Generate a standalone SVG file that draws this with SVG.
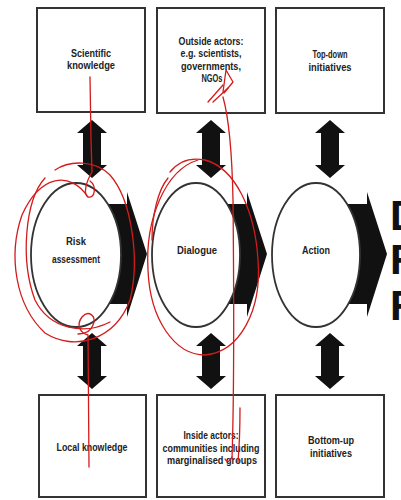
<svg xmlns="http://www.w3.org/2000/svg" xmlns:xlink="http://www.w3.org/1999/xlink" width="401" height="500" viewBox="0 0 401 500">
<style>
.box{fill:#fff;stroke:#333;stroke-width:2}
.circ{fill:#fff;stroke:#333;stroke-width:1.8}
.arr{fill:#111}
.t{font-family:"Liberation Sans",Arial,sans-serif;font-weight:bold;font-size:11px;fill:#222;text-anchor:middle}
.tc{font-family:"Liberation Sans",Arial,sans-serif;font-weight:bold;font-size:10px;fill:#222;text-anchor:middle}
.big{font-family:"Liberation Sans",Arial,sans-serif;font-weight:bold;font-size:42px;fill:#111}
.red{fill:none;stroke:#d21c1c;stroke-width:1.3;stroke-linecap:round;stroke-linejoin:round}
</style>
<defs>
<path id="vtop" d="M0,120 L15,133 L9,133 L9,165 L15,165 L0,178 L-15,165 L-9,165 L-9,133 L-15,133 Z"/>
<path id="vbot" d="M0,333 L15,346 L9,346 L9,376 L15,376 L0,389 L-15,376 L-9,376 L-9,346 L-15,346 Z"/>
<path id="chev" d="M0,204 L51,204 L51,192 L71,254 L51,317 L51,304 L0,304 Z"/>
</defs>
<rect width="401" height="500" fill="#fff"/>
<g id="connectors" class="arr">
<use xlink:href="#vtop" x="92"/>
<use xlink:href="#vtop" x="211"/>
<use xlink:href="#vtop" x="330"/>
<use xlink:href="#vbot" x="92"/>
<use xlink:href="#vbot" x="211"/>
<use xlink:href="#vbot" x="330"/>
<use xlink:href="#chev" x="76"/>
<use xlink:href="#chev" x="196"/>
<use xlink:href="#chev" x="316"/>
</g>
<g id="box-scientific">
<rect class="box" x="37" y="8" width="108" height="104"/>
<text class="t" x="91" y="57" textLength="40" lengthAdjust="spacingAndGlyphs">Scientific</text>
<text class="t" x="91" y="68.5" textLength="48" lengthAdjust="spacingAndGlyphs">knowledge</text>
</g>
<g id="box-outside">
<rect class="box" x="157" y="8" width="108" height="105"/>
<text class="t" x="211" y="44.5" textLength="65" lengthAdjust="spacingAndGlyphs">Outside actors:</text>
<text class="t" x="211" y="57" textLength="61" lengthAdjust="spacingAndGlyphs">e.g. scientists,</text>
<text class="t" x="211" y="69.5" textLength="60" lengthAdjust="spacingAndGlyphs">governments,</text>
<text class="t" x="212" y="82" textLength="21" lengthAdjust="spacingAndGlyphs">NGOs</text>
</g>
<g id="box-topdown">
<rect class="box" x="276" y="8" width="108" height="105"/>
<text class="t" x="330" y="57.5" textLength="35" lengthAdjust="spacingAndGlyphs">Top-down</text>
<text class="t" x="330" y="70.5" textLength="43" lengthAdjust="spacingAndGlyphs">initiatives</text>
</g>
<g id="circle-risk">
<ellipse class="circ" cx="76" cy="255" rx="45" ry="72"/>
<text class="tc" x="76" y="245" textLength="20" lengthAdjust="spacingAndGlyphs">Risk</text>
<text class="tc" x="76" y="263" textLength="48" lengthAdjust="spacingAndGlyphs">assessment</text>
</g>
<g id="circle-dialogue">
<ellipse class="circ" cx="196" cy="255" rx="44" ry="72"/>
<text class="tc" x="197" y="254" textLength="40" lengthAdjust="spacingAndGlyphs">Dialogue</text>
</g>
<g id="circle-action">
<ellipse class="circ" cx="316" cy="255" rx="44" ry="72"/>
<text class="tc" x="316" y="254" textLength="28" lengthAdjust="spacingAndGlyphs">Action</text>
</g>
<g id="box-local">
<rect class="box" x="39" y="395" width="107" height="102"/>
<text class="t" x="92" y="451" textLength="71" lengthAdjust="spacingAndGlyphs">Local knowledge</text>
</g>
<g id="box-inside">
<rect class="box" x="157" y="395" width="108" height="102"/>
<text class="t" x="211" y="439" textLength="55" lengthAdjust="spacingAndGlyphs">Inside actors:</text>
<text class="t" x="211" y="451.5" textLength="97" lengthAdjust="spacingAndGlyphs">communities including</text>
<text class="t" x="212" y="464" textLength="90" lengthAdjust="spacingAndGlyphs">marginalised groups</text>
</g>
<g id="box-bottomup">
<rect class="box" x="276" y="395" width="108" height="102"/>
<text class="t" x="331" y="444" textLength="46" lengthAdjust="spacingAndGlyphs">Bottom-up</text>
<text class="t" x="331" y="457" textLength="42" lengthAdjust="spacingAndGlyphs">initiatives</text>
</g>
<g id="outcomes">
<text class="big" x="390" y="230">D</text>
<text class="big" x="390" y="274">R</text>
<text class="big" x="390" y="320">R</text>
</g>
<g id="annotations" class="red">
<path d="M90,77 L91,140 L92,172 C86,182 83,194 88,197 C95,199 97,186 90,181"/>
<path d="M88,197 C70,170 40,175 22,215 C8,255 15,305 45,333 C75,352 115,340 130,300 C140,260 132,200 110,175 C95,160 70,160 55,170"/>
<path d="M45,178 C25,200 20,260 35,300 C50,330 85,335 110,322"/>
<path d="M89,467 L88,335 C80,333 76,325 82,317 C88,310 97,315 93,325 C91,331 86,334 78,334"/>
<path d="M198,160 C165,170 145,220 148,270 C150,320 175,355 205,355 C240,352 262,310 258,260 C255,210 235,168 205,160 C190,157 178,162 170,172"/>
<path d="M168,178 C158,190 152,215 152,240"/>
<path d="M232,458 C234,400 234,300 233,200 C232,150 228,115 223,97"/>
<path d="M223,92 L226,70 L233,82 L224,93"/>
<path d="M208,102 L223,85 M213,102 L228,88"/>
<path d="M232,457 C230,462 227,463 225,459"/>
<path d="M240,408 C240,430 239,450 238,462"/>
</g>
</svg>
